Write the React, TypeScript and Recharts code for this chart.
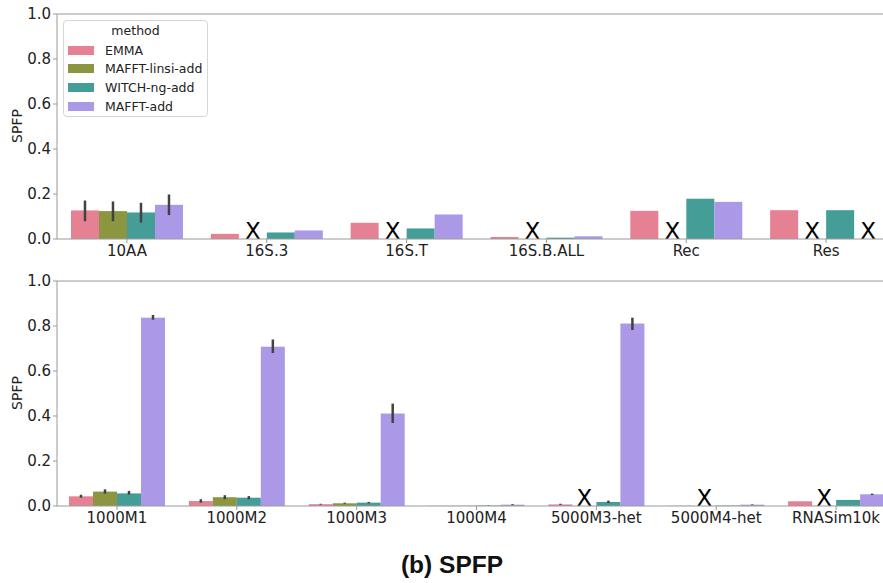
import { BarChart, Bar, XAxis, YAxis, ErrorBar, ReferenceLine, Legend } from 'recharts';

// series order, colours (seaborn husl, desaturated 0.75)
const seriesKeys = ['emma', 'linsi', 'witch', 'mafftAdd'];
const seriesNames = ['EMMA', 'MAFFT-linsi-add', 'WITCH-ng-add', 'MAFFT-add'];
const seriesColors = ['#e68193', '#8c9540', '#449e97', '#ab99e7'];

// top panel
const topCategories = ['10AA', '16S.3', '16S.T', '16S.B.ALL', 'Rec', 'Res'];
const topEmma = [0.127, 0.023, 0.072, 0.009, 0.125, 0.128];
const topLinsi = [0.124, 0, 0, 0, 0, 0];
const topWitch = [0.118, 0.029, 0.047, 0.006, 0.179, 0.128];
const topMafftAdd = [0.152, 0.038, 0.109, 0.012, 0.165, 0];
const topLinsiMissing = [false, true, true, true, true, true];
const topMafftAddMissing = [false, false, false, false, false, true];
const topEmmaCi = [[0.079, 0.171], null, null, null, null, null];
const topLinsiCi = [[0.079, 0.167], null, null, null, null, null];
const topWitchCi = [[0.073, 0.161], null, null, null, null, null];
const topMafftAddCi = [[0.106, 0.198], null, null, null, null, null];

// bottom panel
const bottomCategories = ['1000M1', '1000M2', '1000M3', '1000M4', '5000M3-het', '5000M4-het', 'RNASim10k'];
const bottomEmma = [0.043, 0.022, 0.008, 0.001, 0.007, 0.001, 0.021];
const bottomLinsi = [0.064, 0.039, 0.012, 0.001, 0, 0, 0];
const bottomWitch = [0.056, 0.037, 0.015, 0.002, 0.018, 0.002, 0.027];
const bottomMafftAdd = [0.837, 0.708, 0.411, 0.006, 0.811, 0.006, 0.052];
const bottomLinsiMissing = [false, false, false, false, true, true, true];
const bottomMafftAddMissing = [false, false, false, false, false, false, false];
const bottomEmmaCi = [[0.037, 0.05], [0.015, 0.03], [0.006, 0.01], null, [0.005, 0.01], null, null];
const bottomLinsiCi = [[0.055, 0.074], [0.03, 0.048], [0.01, 0.015], null, null, null, null];
const bottomWitchCi = [[0.051, 0.067], [0.03, 0.044], [0.012, 0.018], [0.001, 0.003], [0.013, 0.024], null, null];
const bottomMafftAddCi = [[0.828, 0.849], [0.68, 0.74], [0.369, 0.455], [0.004, 0.008], [0.782, 0.837], [0.004, 0.007], [0.049, 0.055]];

const yTicks = [0, 0.2, 0.4, 0.6, 0.8, 1.0];

type Ci = number[] | null;

function buildRows(
  categories: string[],
  values: number[][],
  cis: Ci[][],
  linsiMissing: boolean[],
  mafftAddMissing: boolean[],
) {
  return categories.map((name, i) => {
    const row: any = { name, linsiMissing: linsiMissing[i], mafftAddMissing: mafftAddMissing[i] };
    seriesKeys.forEach((k, s) => {
      const v = values[s][i];
      row[k] = v;
      const ci = cis[s][i];
      if (ci) row[k + 'Err'] = [v - ci[0], ci[1] - v];
    });
    return row;
  });
}

const topRows = buildRows(
  topCategories,
  [topEmma, topLinsi, topWitch, topMafftAdd],
  [topEmmaCi, topLinsiCi, topWitchCi, topMafftAddCi],
  topLinsiMissing,
  topMafftAddMissing,
);
const bottomRows = buildRows(
  bottomCategories,
  [bottomEmma, bottomLinsi, bottomWitch, bottomMafftAdd],
  [bottomEmmaCi, bottomLinsiCi, bottomWitchCi, bottomMafftAddCi],
  bottomLinsiMissing,
  bottomMafftAddMissing,
);

const FONT = 'DejaVu Sans';
const SPINE = '#9a9a9a';

// bar shape that prints a big X when the method has no result
const makeShape = (missingKey: string | null) => (props: any) => {
  const { x, y, width, height, fill, payload } = props;
  if (missingKey && payload && payload[missingKey]) {
    return (
      <text x={x + width / 2} y={y + height} textAnchor="middle" fontSize={23} fontFamily={FONT} fill="#000">
        X
      </text>
    );
  }
  if (!height || height <= 0) return <g />;
  return <rect x={x} y={y} width={width} height={height} fill={fill} />;
};

function LegendBox() {
  return (
    <div
      style={{
        width: 145,
        height: 97,
        boxSizing: 'border-box',
        border: '1px solid #d6d6d6',
        borderRadius: 4,
        background: 'rgba(255,255,255,0.85)',
        position: 'relative',
        fontFamily: FONT,
        fontSize: 12.5,
        color: '#222',
      }}
    >
      <div style={{ position: 'absolute', left: 0, width: '100%', top: 2, textAlign: 'center', lineHeight: '16px' }}>
        method
      </div>
      {seriesNames.map((n, i) => (
        <div key={n} style={{ position: 'absolute', left: 4, top: 20 + i * 18.7, height: 18, display: 'flex', alignItems: 'center' }}>
          <span style={{ display: 'inline-block', width: 26, height: 9, background: seriesColors[i] }} />
          <span style={{ marginLeft: 11, whiteSpace: 'nowrap' }}>{n}</span>
        </div>
      ))}
    </div>
  );
}

function Panel({ data, height, marginTop, xAxisHeight, legend, labelY }: any) {
  return (
    <BarChart
      width={910}
      height={height}
      data={data}
      margin={{ top: marginTop, right: 14, bottom: 0, left: 0 }}
      barCategoryGap="10%"
      barGap={0}
    >
      <XAxis
        dataKey="name"
        height={xAxisHeight}
        interval={0}
        tickSize={4}
        stroke={SPINE}
        tick={{ fill: '#222', fontSize: 15, fontFamily: FONT }}
      />
      <YAxis
        type="number"
        domain={[0, 1]}
        ticks={yTicks}
        allowDataOverflow
        width={57}
        tickSize={4}
        stroke={SPINE}
        tickFormatter={(v: number) => v.toFixed(1)}
        tick={{ fill: '#222', fontSize: 15, fontFamily: FONT }}
        label={{
          content: () => (
            <text
              x={17}
              y={labelY}
              transform={`rotate(-90 17 ${labelY})`}
              textAnchor="middle"
              dominantBaseline="central"
              fontSize={14}
              fontFamily={FONT}
              fill="#222"
            >
              SPFP
            </text>
          ),
        }}
      />
      <ReferenceLine y={1} stroke={SPINE} />
      {seriesKeys.map((k, s) => (
        <Bar
          key={k}
          dataKey={k}
          name={seriesNames[s]}
          fill={seriesColors[s]}
          isAnimationActive={false}
          shape={makeShape(k === 'linsi' ? 'linsiMissing' : k === 'mafftAdd' ? 'mafftAddMissing' : null)}
        >
          <ErrorBar dataKey={k + 'Err'} width={0} stroke="#424242" strokeWidth={2.5} direction="y" />
        </Bar>
      ))}
      {legend && (
        <Legend
          layout="vertical"
          align="center"
          verticalAlign="middle"
          wrapperStyle={{ left: 63, top: 20, width: 145, height: 97 }}
          content={() => <LegendBox />}
        />
      )}
    </BarChart>
  );
}

export default function App() {
  return (
    <div
      style={{
        position: 'absolute',
        left: 0,
        top: 0,
        width: 883,
        height: 583,
        overflow: 'hidden',
        background: '#fff',
        fontFamily: FONT,
      }}
    >
      <div style={{ position: 'absolute', left: 0, top: 0 }}>
        <Panel data={topRows} height={265} marginTop={14} xAxisHeight={26} legend labelY={126} />
      </div>
      <div style={{ position: 'absolute', left: 0, top: 265 }}>
        <Panel data={bottomRows} height={270} marginTop={16} xAxisHeight={29} labelY={128} />
      </div>
      <svg width={883} height={48} style={{ position: 'absolute', left: 0, top: 535 }}>
        <text x={452} y={38} textAnchor="middle" fontSize={24.5} fontWeight="bold" fontFamily="Liberation Sans" fill="#111">
          (b) SPFP
        </text>
      </svg>
    </div>
  );
}
